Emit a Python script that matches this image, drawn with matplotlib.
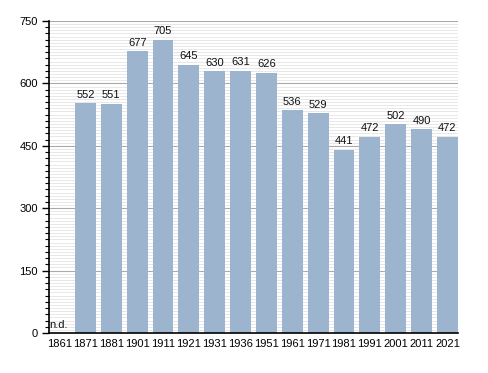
import numpy as np
import matplotlib.pyplot as plt
from matplotlib.ticker import MultipleLocator

years = ['1861', '1871', '1881', '1901', '1911', '1921', '1931', '1936',
         '1951', '1961', '1971', '1981', '1991', '2001', '2011', '2021']
population = [None, 552, 551, 677, 705, 645, 630, 631,
              626, 536, 529, 441, 472, 502, 490, 472]

plt.rcParams['font.family'] = ['Liberation Sans', 'DejaVu Sans']

fig = plt.figure(figsize=(4.88, 3.73), dpi=100)
ax = fig.add_axes([49 / 488, 40 / 373, 409 / 488, 312 / 373])

xs = list(range(len(years)))
for x, v in zip(xs, population):
    if v is None:
        ax.text(x - 0.38, 8, 'n.d.', fontsize=8, ha='left', va='bottom', color='#111111')
        continue
    ax.bar(x, v, width=0.81, color='#9cb4ce', zorder=3)
    ax.text(x, v + 8, str(v), fontsize=8, ha='center', va='bottom', color='#111111', zorder=4)

ax.set_xlim(-0.41, 15.41)
ax.set_ylim(0, 750)
ax.set_xticks(xs)
ax.set_xticklabels(years, fontsize=8)
ax.tick_params(axis='x', length=0, pad=4)

# fine background rules
for yv in np.arange(7.5, 750.1, 7.5):
    major = abs(yv % 150) < 1e-6
    ax.axhline(yv, color='#aaaaaa' if major else '#e4e4e4',
               linewidth=0.8 if major else 0.6, zorder=1)

ax.yaxis.set_major_locator(MultipleLocator(150))
ax.yaxis.set_minor_locator(MultipleLocator(15))
ax.tick_params(axis='y', which='major', length=5, width=1, labelsize=8, pad=3)
ax.tick_params(axis='y', which='minor', length=3, width=0.8)

for side in ['top', 'right']:
    ax.spines[side].set_visible(False)
ax.spines['left'].set_linewidth(1.2)
ax.spines['bottom'].set_linewidth(1.2)
ax.spines['left'].set_zorder(5)
ax.spines['bottom'].set_zorder(5)

fig.savefig('out.png', dpi=100)
